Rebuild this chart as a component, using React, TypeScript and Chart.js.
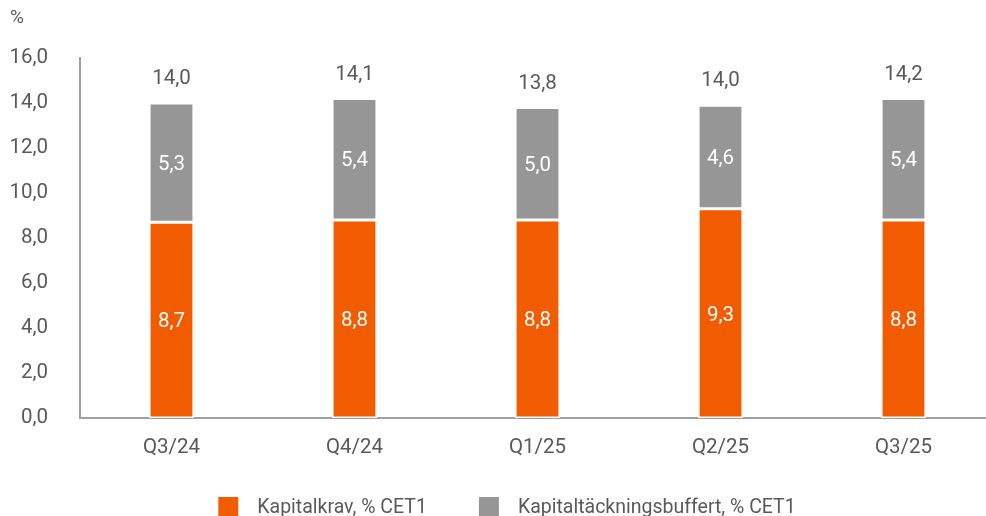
import React, { useEffect, useRef } from "react";
import { Chart, registerables } from "chart.js";

Chart.register(...registerables);

const categories = ["Q3/24", "Q4/24", "Q1/25", "Q2/25", "Q3/25"];
const kapitalkrav = [8.7, 8.8, 8.8, 9.3, 8.8];
const buffert = [5.3, 5.4, 5.0, 4.6, 5.4];
const totals = [14.0, 14.1, 13.8, 14.0, 14.2];
const yTicks = [0, 2, 4, 6, 8, 10, 12, 14, 16];
const seriesNames = ["Kapitalkrav, % CET1", "Kapitaltäckningsbuffert, % CET1"];
const seriesColors = ["#F25C00", "#969696"];

const FONT = "Roboto";
const TEXT = "#595959";
const FS = 20.5;
const fmt = (v: number) => v.toFixed(1).replace(".", ",");

export default function App() {
  const ref = useRef<HTMLCanvasElement | null>(null);
  useEffect(() => {
    const canvas = ref.current;
    if (!canvas) return;
    const labelsPlugin = {
      id: "valueLabels",
      afterDatasetsDraw(chart: any) {
        const ctx = chart.ctx;
        ctx.save();
        ctx.font = `${FS}px ${FONT}`;
        ctx.textAlign = "center";
        ctx.textBaseline = "middle";
        chart.data.datasets.forEach((ds: any, di: number) => {
          const meta = chart.getDatasetMeta(di);
          meta.data.forEach((bar: any, i: number) => {
            const top = Math.min(bar.y, bar.base);
            const bottom = Math.max(bar.y, bar.base);
            ctx.fillStyle = "#ffffff";
            ctx.fillText(fmt(ds.data[i]), bar.x, (top + bottom) / 2 + 2);
          });
        });
        const last = chart.getDatasetMeta(chart.data.datasets.length - 1);
        last.data.forEach((bar: any, i: number) => {
          ctx.fillStyle = TEXT;
          ctx.fillText(fmt(totals[i]), bar.x, bar.y - 24);
        });
        // unit label
        ctx.textAlign = "left";
        ctx.font = `19px ${FONT}`;
        ctx.fillText("%", 10, 18);
        ctx.restore();
      },
      afterDraw(chart: any) {
        // legend
        const ctx = chart.ctx;
        ctx.save();
        ctx.font = `19.5px ${FONT}`;
        ctx.textBaseline = "middle";
        const box = 20;
        const gapText = 19;
        const gapItem = 52;
        const widths = seriesNames.map((n) => box + gapText + ctx.measureText(n).width);
        const total = widths.reduce((a, b) => a + b, 0) + gapItem * (widths.length - 1);
        let x = 507 - total / 2;
        const cy = 507;
        seriesNames.forEach((n, i) => {
          ctx.fillStyle = seriesColors[i];
          ctx.fillRect(x, cy - box / 2, box, box);
          ctx.fillStyle = TEXT;
          ctx.textAlign = "left";
          ctx.fillText(n, x + box + gapText, cy + 1);
          x += widths[i] + gapItem;
        });
        ctx.restore();
      },
    };
    const chart = new Chart(canvas, {
      type: "bar",
      data: {
        labels: categories,
        datasets: [
          {
            label: seriesNames[0],
            data: kapitalkrav,
            backgroundColor: seriesColors[0],
            borderColor: "#ffffff",
            borderWidth: 1.5,
            borderSkipped: false,
          },
          {
            label: seriesNames[1],
            data: buffert,
            backgroundColor: seriesColors[1],
            borderColor: "#ffffff",
            borderWidth: 1.5,
            borderSkipped: false,
          },
        ],
      },
      options: {
        responsive: false,
        animation: false,
        layout: { padding: { top: 58, left: 0, right: 5, bottom: 0 } },
        datasets: { bar: { categoryPercentage: 1, barPercentage: 0.245 } },
        plugins: {
          legend: { display: false },
          tooltip: { enabled: false },
        },
        scales: {
          x: {
            stacked: true,
            grid: { display: false },
            border: { display: true, color: "#a0a0a0", width: 2 },
            ticks: { color: TEXT, font: { family: FONT, size: FS }, padding: 10 },
            afterFit(scale: any) {
              scale.height = 98;
            },
          },
          y: {
            stacked: true,
            min: 0,
            max: 16,
            grid: { display: false, drawTicks: false },
            border: { display: true, color: "#a0a0a0", width: 2 },
            afterBuildTicks(scale: any) {
              scale.ticks = yTicks.map((v) => ({ value: v }));
            },
            ticks: {
              color: TEXT,
              font: { family: FONT, size: FS },
              padding: 32,
              callback: (v: any) => fmt(Number(v)),
            },
            afterFit(scale: any) {
              scale.width = 80;
            },
          },
        },
      },
      plugins: [labelsPlugin],
    });
    return () => chart.destroy();
  }, []);
  return (
    <div style={{ position: "fixed", left: 0, top: 0, width: 986, height: 516, overflow: "hidden", background: "#fff" }}>
      <canvas ref={ref} width={1000} height={516} style={{ width: 1000, height: 516, display: "block" }} />
    </div>
  );
}
